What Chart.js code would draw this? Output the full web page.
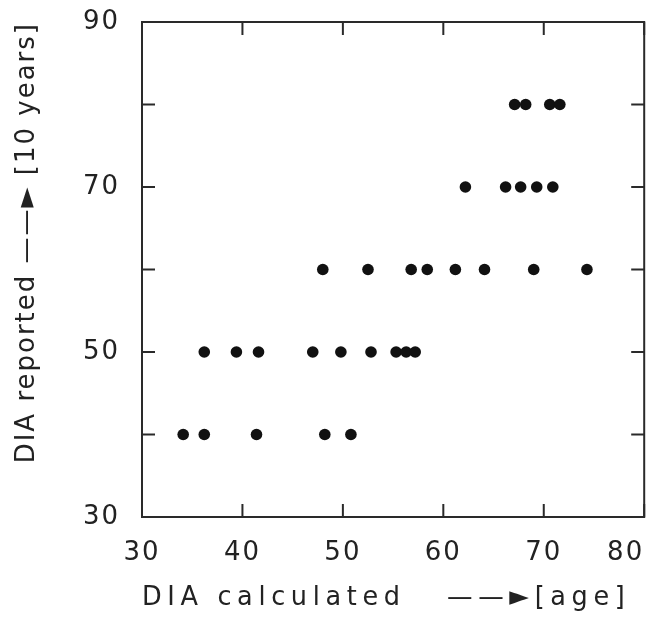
<!DOCTYPE html>
<html>
<head>
<meta charset="utf-8">
<script src="https://cdn.jsdelivr.net/npm/chart.js@4/dist/chart.umd.min.js"></script>
<style>
  html, body { margin: 0; padding: 0; background: #fff; }
  #wrap { width: 650px; height: 618px; }
</style>
</head>
<body>
<div id="wrap"><canvas id="chart" width="650" height="618"></canvas></div>
<script>
// DIA reported (rows) vs DIA calculated (dots along each row)
const reportedLevels = [40, 50, 60, 70, 80];
const calc40 = [34.1, 36.2, 41.4, 48.2, 50.8];
const calc50 = [36.2, 39.4, 41.6, 47.0, 49.8, 52.8, 55.3, 56.3, 57.2];
const calc60 = [48.0, 52.5, 56.8, 58.4, 61.2, 64.1, 69.0, 74.3];
const calc70 = [62.2, 66.2, 67.7, 69.3, 70.9];
const calc80 = [67.1, 68.2, 70.6, 71.6];

const xTickLabels = [30, 40, 50, 60, 70, 80];
const yTickLabels = [30, 50, 70, 90];

const rows = [calc40, calc50, calc60, calc70, calc80];
const points = [];
rows.forEach((xs, i) => xs.forEach(x => points.push({ x: x, y: reportedLevels[i] })));

const TEXT = '#222';
const FONT = "'DejaVu Sans', sans-serif";
const TICK_LEN = 13;

// frame with inward ticks on all four sides, plus letter spacing for the texts
const frameTicks = {
  id: 'frameTicks',
  beforeDraw(chart) { chart.ctx.letterSpacing = '2px'; },
  afterDatasetsDraw(chart) { chart.ctx.letterSpacing = '6px'; },
  afterDraw(chart) {
    const { ctx, chartArea: a, scales: { x, y } } = chart;
    ctx.save();
    ctx.letterSpacing = '0px';
    ctx.strokeStyle = '#2a2a2a';
    ctx.lineWidth = 2;
    ctx.strokeRect(a.left, a.top, a.right - a.left, a.bottom - a.top);
    ctx.beginPath();
    for (const t of x.ticks) {
      const px = x.getPixelForValue(t.value);
      ctx.moveTo(px, a.top); ctx.lineTo(px, a.top + TICK_LEN);
      ctx.moveTo(px, a.bottom); ctx.lineTo(px, a.bottom - TICK_LEN);
    }
    for (const t of y.ticks) {
      const py = y.getPixelForValue(t.value);
      ctx.moveTo(a.left, py); ctx.lineTo(a.left + TICK_LEN, py);
      ctx.moveTo(a.right, py); ctx.lineTo(a.right - TICK_LEN, py);
    }
    ctx.stroke();
    ctx.restore();
  }
};

new Chart(document.getElementById('chart'), {
  type: 'scatter',
  data: {
    datasets: [{
      data: points,
      pointRadius: 5.8,
      pointHoverRadius: 5.8,
      pointBackgroundColor: '#111',
      pointBorderColor: '#111',
      pointBorderWidth: 0,
    }]
  },
  options: {
    responsive: false,
    animation: false,
    events: [],
    layout: { padding: { top: 22, right: 5, left: 0, bottom: 0 } },
    plugins: { legend: { display: false }, tooltip: { enabled: false } },
    scales: {
      x: {
        type: 'linear',
        min: 30, max: 80,
        afterFit: s => { s.height = 101; s.paddingLeft = 0; s.paddingRight = 0; },
        grid: { display: false, drawTicks: false, z: 1 },
        border: { display: false },
        ticks: {
          stepSize: 10, autoSkip: false, padding: 21, color: TEXT,
          font: { family: FONT, size: 26 },
          // last label sits inside the picture edge, as in the source
          callback: v => !xTickLabels.includes(v) ? '' : (v === 80 ? '80\u2007\u2007' : String(v))
        },
        title: {
          display: true, text: 'DIA calculated   ——►[age]\u00a0', color: TEXT,
          font: { family: FONT, size: 27 }, padding: { top: 0, bottom: 4 }
        }
      },
      y: {
        type: 'linear',
        min: 30, max: 90,
        afterFit: s => { s.width = 142; s.paddingTop = 0; s.paddingBottom = 0; },
        grid: { display: false, drawTicks: false },
        border: { display: false },
        ticks: {
          stepSize: 10, autoSkip: false, padding: 22, color: TEXT,
          font: { family: FONT, size: 26 },
          callback: v => yTickLabels.includes(v) ? String(v) : ''
        },
        title: {
          display: true, text: 'DIA reported ——► [10 years]', color: TEXT, align: 'end',
          font: { family: FONT, size: 26 }, padding: { top: 12, bottom: 0 }
        }
      }
    }
  },
  plugins: [frameTicks]
});
</script>
</body>
</html>
